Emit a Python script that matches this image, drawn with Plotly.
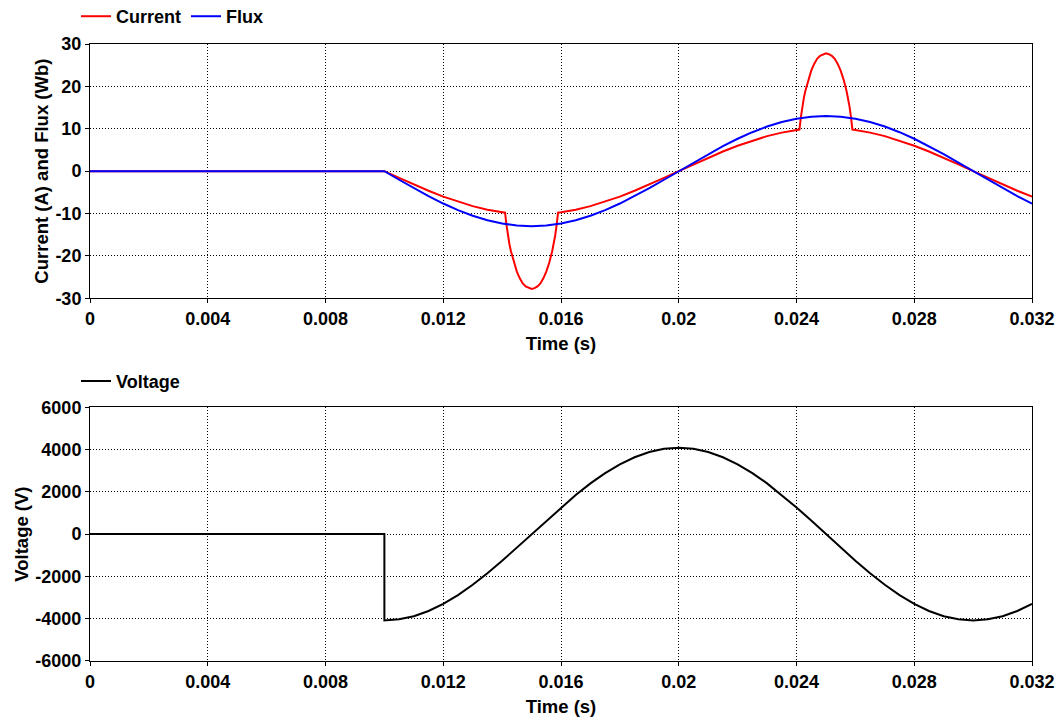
import plotly.graph_objects as go

# ---- data ----
# common time grid after switching at t = 0.01 s
t_grid = [0.0, 0.0100, 0.0105, 0.0110, 0.0115, 0.0120, 0.0125, 0.0130, 0.0135, 0.0140, 0.0145,
          0.0150, 0.0155, 0.0160, 0.0165, 0.0170, 0.0175, 0.0180, 0.0185, 0.0190, 0.0195,
          0.0200, 0.0205, 0.0210, 0.0215, 0.0220, 0.0225, 0.0230, 0.0235, 0.0240, 0.0245,
          0.0250, 0.0255, 0.0260, 0.0265, 0.0270, 0.0275, 0.0280, 0.0285, 0.0290, 0.0295,
          0.0300, 0.0305, 0.0310, 0.0315, 0.0320]

flux = [0.0, 0.0, -2.03, -4.02, -5.90, -7.64, -9.19, -10.52, -11.58, -12.36, -12.84,
        -13.00, -12.84, -12.36, -11.58, -10.52, -9.19, -7.64, -5.90, -4.02, -2.03,
        0.0, 2.03, 4.02, 5.90, 7.64, 9.19, 10.52, 11.58, 12.36, 12.84,
        13.00, 12.84, 12.36, 11.58, 10.52, 9.19, 7.64, 5.90, 4.02, 2.03,
        0.0, -2.03, -4.02, -5.90, -7.64]

t_current = [0.0, 0.0100, 0.0105, 0.0110, 0.0115, 0.0120, 0.0125, 0.0130, 0.0135, 0.0140,
             0.01410, 0.01415, 0.01420, 0.01425, 0.01430, 0.01440, 0.01450, 0.01460, 0.01470,
             0.01480, 0.01490, 0.01500, 0.01510, 0.01520, 0.01530, 0.01540, 0.01550, 0.01560,
             0.01570, 0.01575, 0.01580, 0.01585, 0.01590,
             0.0160, 0.0165, 0.0170, 0.0175, 0.0180, 0.0185, 0.0190, 0.0195,
             0.0200, 0.0205, 0.0210, 0.0215, 0.0220, 0.0225, 0.0230, 0.0235, 0.0240,
             0.02410, 0.02415, 0.02420, 0.02425, 0.02430, 0.02440, 0.02450, 0.02460, 0.02470,
             0.02480, 0.02490, 0.02500, 0.02510, 0.02520, 0.02530, 0.02540, 0.02550, 0.02560,
             0.02570, 0.02575, 0.02580, 0.02585, 0.02590,
             0.0260, 0.0265, 0.0270, 0.0275, 0.0280, 0.0285, 0.0290, 0.0295,
             0.0300, 0.0305, 0.0310, 0.0315, 0.0320]

current = [0.0, 0.0, -1.59, -3.16, -4.63, -6.00, -7.21, -8.26, -9.09, -9.70,
           -9.80, -12.8, -15.3, -17.3, -18.9, -21.6, -23.7, -25.3, -26.5,
           -27.2, -27.6, -27.8, -27.6, -27.2, -26.5, -25.3, -23.7, -21.6,
           -18.9, -17.3, -15.3, -12.8, -9.80,
           -9.70, -9.09, -8.26, -7.21, -6.00, -4.63, -3.16, -1.59,
           0.0, 1.59, 3.16, 4.63, 6.00, 7.21, 8.26, 9.09, 9.70,
           9.80, 12.8, 15.3, 17.3, 18.9, 21.6, 23.7, 25.3, 26.5,
           27.2, 27.6, 27.8, 27.6, 27.2, 26.5, 25.3, 23.7, 21.6,
           18.9, 17.3, 15.3, 12.8, 9.80,
           9.70, 9.09, 8.26, 7.21, 6.00, 4.63, 3.16, 1.59,
           0.0, -1.59, -3.16, -4.63, -6.00]

t_voltage = [0.0, 0.0100, 0.0100, 0.0105, 0.0110, 0.0115, 0.0120, 0.0125, 0.0130, 0.0135, 0.0140, 0.0145,
             0.0150, 0.0155, 0.0160, 0.0165, 0.0170, 0.0175, 0.0180, 0.0185, 0.0190, 0.0195,
             0.0200, 0.0205, 0.0210, 0.0215, 0.0220, 0.0225, 0.0230, 0.0235, 0.0240, 0.0245,
             0.0250, 0.0255, 0.0260, 0.0265, 0.0270, 0.0275, 0.0280, 0.0285, 0.0290, 0.0295,
             0.0300, 0.0305, 0.0310, 0.0315, 0.0320]

voltage = [0, 0, -4080, -4030, -3880, -3635, -3301, -2885, -2398, -1852, -1261, -638,
           0, 638, 1261, 1852, 2398, 2885, 3301, 3635, 3880, 4030,
           4080, 4030, 3880, 3635, 3301, 2885, 2398, 1852, 1261, 638,
           0, -638, -1261, -1852, -2398, -2885, -3301, -3635, -3880, -4030,
           -4080, -4030, -3880, -3635, -3301]

x_ticks = [0, 0.004, 0.008, 0.012, 0.016, 0.02, 0.024, 0.028, 0.032]
x_tick_labels = ["0", "0.004", "0.008", "0.012", "0.016", "0.02", "0.024", "0.028", "0.032"]
y1_ticks = [-30, -20, -10, 0, 10, 20, 30]
y1_tick_labels = ["-30", "-20", "-10", "0", "10", "20", "30"]
y2_ticks = [-6000, -4000, -2000, 0, 2000, 4000, 6000]
y2_tick_labels = ["-6000", "-4000", "-2000", "0", "2000", "4000", "6000"]

# ---- figure ----
W, H = 1058, 720
FONT = "Liberation Sans, Arial, sans-serif"

# pixel layout
L, R = 90, 1032
T, B = 43.5, 661
top_bottom_px = 298
bot_top_px = 407
PH = B - T
PW = R - L

def py(pix):
    return (B - pix) / PH

def px(pix):
    return (pix - L) / PW

fig = go.Figure()
fig.add_trace(go.Scatter(x=t_current, y=current, name="Current", mode="lines",
                         line=dict(color="#ff0000", width=2), xaxis="x", yaxis="y", legend="legend"))
fig.add_trace(go.Scatter(x=t_grid, y=flux, name="Flux", mode="lines",
                         line=dict(color="#0000ff", width=2), xaxis="x", yaxis="y", legend="legend"))
fig.add_trace(go.Scatter(x=t_voltage, y=voltage, name="Voltage", mode="lines",
                         line=dict(color="#000000", width=2), xaxis="x2", yaxis="y2", legend="legend2"))

TICK = dict(family=FONT, size=18, color="black", weight="bold")
TITLE = dict(family=FONT, size=18.5, color="black", weight="bold")

axis_common = dict(
    showline=True, linecolor="black", linewidth=1, mirror=True,
    showgrid=True, gridcolor="#000000", gridwidth=1, griddash="1px,2px",
    zeroline=False, ticks="outside", ticklen=4, tickcolor="black",
    tickfont=TICK, automargin=False,
)

LEG_FONT = dict(family=FONT, size=18, color="black", weight="bold")

fig.update_layout(
    template="none",
    width=W, height=H,
    margin=dict(l=L, r=W - R, t=T, b=H - B, pad=0, autoexpand=False),
    paper_bgcolor="white", plot_bgcolor="white",
    font=dict(family=FONT, color="black", weight="bold"),
    xaxis=dict(domain=[0, 1], anchor="y", range=[0, 0.032],
               tickvals=x_ticks, ticktext=x_tick_labels,
               title=dict(text="Time (s)", font=TITLE, standoff=9),
               **axis_common),
    yaxis=dict(domain=[py(top_bottom_px), 1], anchor="x", range=[-30, 30],
               tickvals=y1_ticks, ticktext=y1_tick_labels,
               title=dict(text="Current (A) and Flux (Wb)", font=TITLE, standoff=1),
               **axis_common),
    xaxis2=dict(domain=[0, 1], anchor="y2", range=[0, 0.032],
                tickvals=x_ticks, ticktext=x_tick_labels,
                title=dict(text="Time (s)", font=TITLE, standoff=9),
                **axis_common),
    yaxis2=dict(domain=[0, py(bot_top_px)], anchor="x2", range=[-6000, 6000],
                tickvals=y2_ticks, ticktext=y2_tick_labels,
                title=dict(text="Voltage (V)", font=TITLE, standoff=1),
                **axis_common),
    legend=dict(orientation="h", x=px(76), xanchor="left", y=py(16), yanchor="middle",
                font=LEG_FONT, bgcolor="rgba(0,0,0,0)", itemwidth=30),
    legend2=dict(orientation="h", x=px(76), xanchor="left", y=py(381), yanchor="middle",
                 font=LEG_FONT, bgcolor="rgba(0,0,0,0)", itemwidth=30),
    showlegend=True,
)

fig.write_html("out.html")
